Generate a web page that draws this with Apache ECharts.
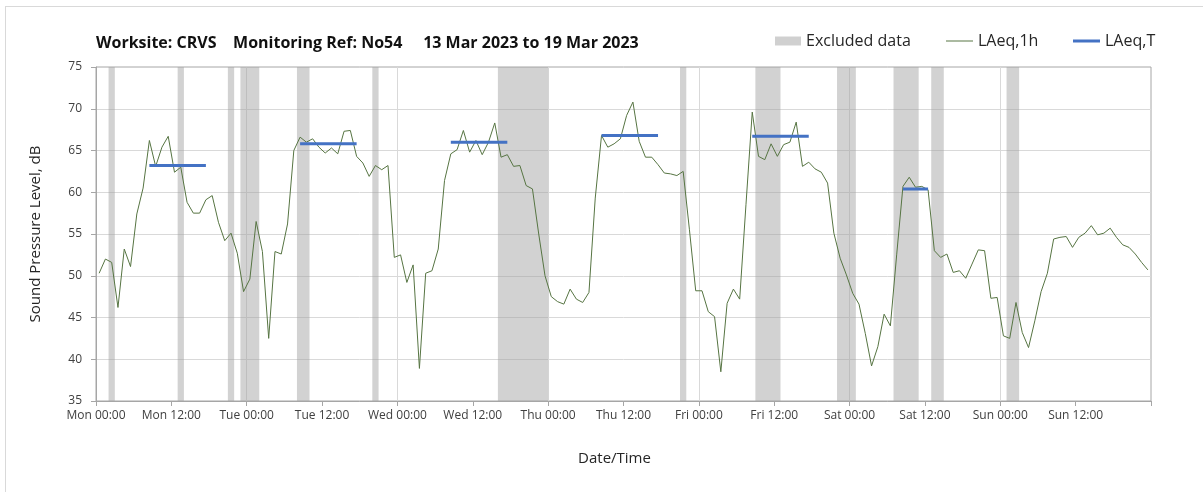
<!DOCTYPE html>
<html>
<head>
<meta charset="utf-8">
<title>Worksite CRVS - N054</title>
<script src="https://cdn.jsdelivr.net/npm/echarts@6/dist/echarts.min.js"></script>
<style>
  html, body { margin: 0; padding: 0; background: #ffffff; }
  #frame { position: absolute; left: 5px; top: 6px; width: 1400px; height: 700px;
           border-top: 1px solid #d9d9d9; border-left: 1px solid #d9d9d9; }
  #chart { position: absolute; left: 0; top: 0; width: 1203px; height: 492px; }
</style>
</head>
<body>
<div id="frame"></div>
<div id="chart"></div>
<script>
// tick labels, one every 12 hours from Mon 00:00
const tickLabels = ['Mon 00:00', 'Mon 12:00', 'Tue 00:00', 'Tue 12:00', 'Wed 00:00', 'Wed 12:00',
  'Thu 00:00', 'Thu 12:00', 'Fri 00:00', 'Fri 12:00', 'Sat 00:00', 'Sat 12:00', 'Sun 00:00', 'Sun 12:00'];

// LAeq,1h - one value per hour, Mon 00:00 .. Sun 23:00
const laeq1h = [
  50.3, 52.0, 51.6, 46.2, 53.2, 51.1, 57.4, 60.5, 66.2, 63.1, 65.4, 66.7,
  62.4, 63.0, 58.8, 57.5, 57.5, 59.1, 59.6, 56.4, 54.2, 55.1, 52.7, 48.1,
  49.6, 56.5, 52.9, 42.5, 52.9, 52.6, 56.2, 65.0, 66.6, 66.0, 66.4, 65.4,
  64.7, 65.3, 64.6, 67.3, 67.4, 64.3, 63.5, 61.9, 63.2, 62.7, 63.2, 52.2,
  52.5, 49.2, 51.3, 38.9, 50.3, 50.6, 53.2, 61.4, 64.6, 65.1, 67.4, 64.8,
  66.2, 64.5, 66.0, 68.3, 64.2, 64.5, 63.1, 63.2, 60.8, 60.4, 55.0, 50.0,
  47.5, 46.9, 46.6, 48.4, 47.2, 46.8, 48.0, 59.3, 66.8, 65.4, 65.8, 66.4,
  69.2, 70.8, 66.1, 64.2, 64.2, 63.3, 62.3, 62.2, 62.0, 62.5, 55.5, 48.2,
  48.2, 45.7, 45.1, 38.5, 46.7, 48.4, 47.2, 58.5, 69.6, 64.3, 63.9, 65.8,
  64.3, 65.7, 66.0, 68.4, 63.1, 63.6, 62.8, 62.4, 61.1, 55.1, 52.1, 50.1,
  47.9, 46.6, 43.1, 39.2, 41.5, 45.4, 44.0, 52.5, 60.7, 61.8, 60.6, 60.7,
  60.3, 53.0, 52.2, 52.6, 50.4, 50.6, 49.7, 51.4, 53.1, 53.0, 47.3, 47.4,
  42.8, 42.5, 46.8, 43.2, 41.4, 44.6, 48.1, 50.3, 54.4, 54.6, 54.7, 53.4,
  54.6, 55.1, 56.0, 54.9, 55.1, 55.7, 54.6, 53.7, 53.4, 52.6, 51.6, 50.7
];

// excluded data periods, hours from Mon 00:00
const excludedStart = [2, 13, 21, 23, 32, 44, 64, 93, 105, 118, 127, 133, 145];
const excludedEnd = [3, 14, 22, 26, 34, 45, 72, 94, 109, 121, 131, 135, 147];

// LAeq,T for the daytime periods
const periodStart = [8.5, 32.5, 56.5, 80.5, 104.5, 128.5];
const periodEnd = [17.5, 41.5, 65.5, 89.5, 113.5, 132.5];
const laeqT = [63.2, 65.8, 66.0, 66.8, 66.7, 60.4];

const FONT = 'Open Sans';
const GRID_COLOR = '#d9d9d9';
const AXIS_COLOR = '#a6a6a6';

// build series data
const hourlyData = laeq1h.map(function (v, i) { return [i + 0.5, v]; });
const periodData = [];
periodStart.forEach(function (s, i) {
  periodData.push([s, laeqT[i]]);
  periodData.push([periodEnd[i], laeqT[i]]);
  periodData.push([periodEnd[i], null]); // break between periods
});
const excludedAreas = excludedStart.map(function (s, i) {
  return [{xAxis: s}, {xAxis: excludedEnd[i]}];
});

const myChart = echarts.init(document.getElementById('chart'));

function legendOf(name, left, w, h) {
  return {
    data: [name],
    left: left,
    top: 33,
    padding: 0,
    icon: 'rect',
    itemWidth: w,
    itemHeight: h,
    itemStyle: {borderWidth: 0},
    selectedMode: false,
    textStyle: {fontFamily: FONT, fontSize: 16, color: '#262626', padding: [0, 0, 0, 0]}
  };
}

const option = {
  animation: false,
  title: {
    text: 'Worksite: CRVS    Monitoring Ref: No54     13 Mar 2023 to 19 Mar 2023',
    left: 91,
    top: 30,
    textStyle: {fontFamily: FONT, fontSize: 16, fontWeight: 'bold', color: '#111111'}
  },
  legend: [
    legendOf('Excluded data', 775, 26, 9),
    legendOf('LAeq,1h', 946, 27, 1),
    legendOf('LAeq,T', 1073, 27, 3)
  ],
  grid: {
    left: 96,
    right: 52,
    top: 67,
    bottom: 91,
    show: true,
    borderColor: AXIS_COLOR,
    borderWidth: 1
  },
  xAxis: [
    {
      type: 'value',
      min: 0,
      max: 168,
      interval: 12,
      name: 'Date/Time',
      nameLocation: 'middle',
      nameGap: 50,
      nameTextStyle: {fontFamily: FONT, fontSize: 15, color: '#262626', padding: [0, 18, 0, 0]},
      axisLine: {show: true, lineStyle: {color: AXIS_COLOR}},
      axisTick: {show: true, inside: false, length: 5, lineStyle: {color: AXIS_COLOR}},
      axisLabel: {
        fontFamily: FONT,
        fontSize: 12,
        color: '#404040',
        margin: 9,
        formatter: function (v) { return tickLabels[v / 12] || ''; }
      },
      splitLine: {show: false}
    },
    {
      // daily vertical gridlines only
      type: 'value',
      min: 0,
      max: 168,
      interval: 24,
      position: 'top',
      axisLine: {show: false},
      axisTick: {show: false},
      axisLabel: {show: false},
      splitLine: {show: true, showMinLine: false, showMaxLine: false, lineStyle: {color: GRID_COLOR}}
    }
  ],
  yAxis: {
    type: 'value',
    min: 35,
    max: 75,
    interval: 5,
    name: 'Sound Pressure Level, dB',
    nameLocation: 'middle',
    nameGap: 53,
    nameTextStyle: {fontFamily: FONT, fontSize: 15, color: '#262626'},
    axisLine: {show: true, lineStyle: {color: AXIS_COLOR}},
    axisTick: {show: true, inside: false, length: 5, lineStyle: {color: AXIS_COLOR}},
    axisLabel: {fontFamily: FONT, fontSize: 12, color: '#404040', margin: 14},
    splitLine: {show: true, showMinLine: false, showMaxLine: false, lineStyle: {color: GRID_COLOR}}
  },
  series: [
    {
      name: 'Excluded data',
      type: 'line',
      data: [],
      itemStyle: {color: '#d0d0d0'},
      lineStyle: {color: '#d0d0d0'},
      markArea: {
        silent: true,
        itemStyle: {color: 'rgba(160,160,160,0.48)'},
        data: excludedAreas
      }
    },
    {
      name: 'LAeq,1h',
      type: 'line',
      data: hourlyData,
      symbol: 'none',
      itemStyle: {color: '#567442'},
      lineStyle: {color: '#567442', width: 1},
      z: 3
    },
    {
      name: 'LAeq,T',
      type: 'line',
      data: periodData,
      symbol: 'none',
      connectNulls: false,
      itemStyle: {color: '#4472c4'},
      lineStyle: {color: '#4472c4', width: 3},
      z: 4
    }
  ]
};

myChart.setOption(option);
</script>
</body>
</html>
